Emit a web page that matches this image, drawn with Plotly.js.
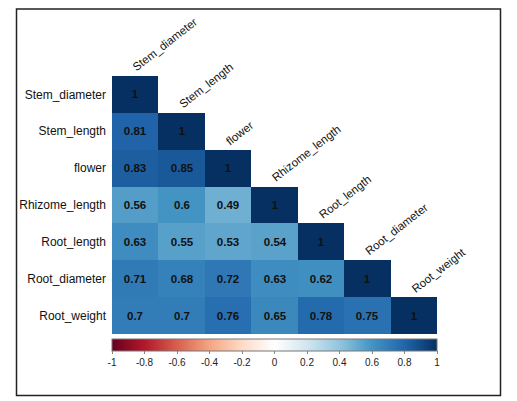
<!DOCTYPE html>
<html>
<head>
<meta charset="utf-8">
<script src="https://cdn.plot.ly/plotly-3.0.1.min.js"></script>
<style>html,body{margin:0;padding:0;background:#fff;} #chart{width:517px;height:401px;}</style>
</head>
<body>
<div id="chart"></div>
<script>
// ---- data ----
const variables = ["Stem_diameter","Stem_length","flower","Rhizome_length","Root_length","Root_diameter","Root_weight"];
const row_Stem_diameter  = [1];
const row_Stem_length    = [0.81, 1];
const row_flower         = [0.83, 0.85, 1];
const row_Rhizome_length = [0.56, 0.6, 0.49, 1];
const row_Root_length    = [0.63, 0.55, 0.53, 0.54, 1];
const row_Root_diameter  = [0.71, 0.68, 0.72, 0.63, 0.62, 1];
const row_Root_weight    = [0.7, 0.7, 0.76, 0.65, 0.78, 0.75, 1];
const colorbarTicks = [-1,-0.8,-0.6,-0.4,-0.2,0,0.2,0.4,0.6,0.8,1];
const colorbarTickLabels = ["-1","-0.8","-0.6","-0.4","-0.2","0","0.2","0.4","0.6","0.8","1"];
const rdbu = ["#67001F","#B2182B","#D6604D","#F4A582","#FDDBC7","#FFFFFF","#D1E5F0","#92C5DE","#4393C3","#2166AC","#053061"];

// ---- build matrix ----
const rows = [row_Stem_diameter,row_Stem_length,row_flower,row_Rhizome_length,row_Root_length,row_Root_diameter,row_Root_weight];
const n = variables.length;
const z = rows.map(r => { const a = r.slice(); while (a.length < n) a.push(null); return a; });
const txt = z.map(r => r.map(v => v === null ? "" : String(v)));
const colorscale = rdbu.map((c,i) => [i/(rdbu.length-1), c]);

const W = 517, H = 401;
const m = {l:112, r:80, t:76, b:67};
const pw = W - m.l - m.r, ph = H - m.t - m.b;
const pxX = x => (x - m.l)/pw;
const pxY = y => (H - m.b - y)/ph;
const FONT = "Liberation Sans, Arial, sans-serif";

const trace = {
  type: "heatmap",
  x: variables, y: variables, z: z,
  text: txt, texttemplate: "%{text}",
  textfont: {family: FONT, size: 11.5, color: "#111", weight: "bold"},
  colorscale: colorscale, zmin: -1, zmax: 1,
  hoverongaps: false,
  colorbar: {
    orientation: "h", x: 0.5, xanchor: "center", xref: "paper",
    y: pxY(339), yanchor: "top", yref: "paper",
    len: pw, lenmode: "pixels", thickness: 12, thicknessmode: "pixels",
    xpad: 0, ypad: 0,
    outlinecolor: "#777", outlinewidth: 1,
    tickmode: "array", tickvals: colorbarTicks, ticktext: colorbarTickLabels,
    ticks: "outside", ticklen: 3, tickcolor: "#888", tickwidth: 1,
    tickfont: {family: FONT, size: 10, color: "#222"}
  }
};

const annotations = variables.map((v,i) => ({
  x: i, y: i - 0.5, xref: "x", yref: "y",
  text: v, showarrow: false, textangle: -38,
  xanchor: "left", yanchor: "bottom", xshift: -7, yshift: 0,
  font: {family: FONT, size: 11.5, color: "#111"}
}));

const layout = {
  width: W, height: H, margin: m,
  paper_bgcolor: "#fff", plot_bgcolor: "#fff",
  xaxis: {range: [-0.5, n - 0.5], autorange: false, showticklabels: false, showgrid: false, zeroline: false, ticks: "", showline: false, fixedrange: true},
  yaxis: {range: [n - 0.5, -0.5], autorange: false, showgrid: false, zeroline: false, ticks: "", showline: false,
          ticklabelstandoff: 5,
          tickfont: {family: FONT, size: 12, color: "#111"}},
  annotations: annotations,
  shapes: [{type: "rect", xref: "paper", yref: "paper",
            x0: pxX(16.5), x1: pxX(500.5), y0: pxY(395.5), y1: pxY(9),
            line: {color: "#222", width: 1.5}, layer: "above"}],
  showlegend: false
};

Plotly.newPlot("chart", [trace], layout, {staticPlot: true, displayModeBar: false});
</script>
</body>
</html>
